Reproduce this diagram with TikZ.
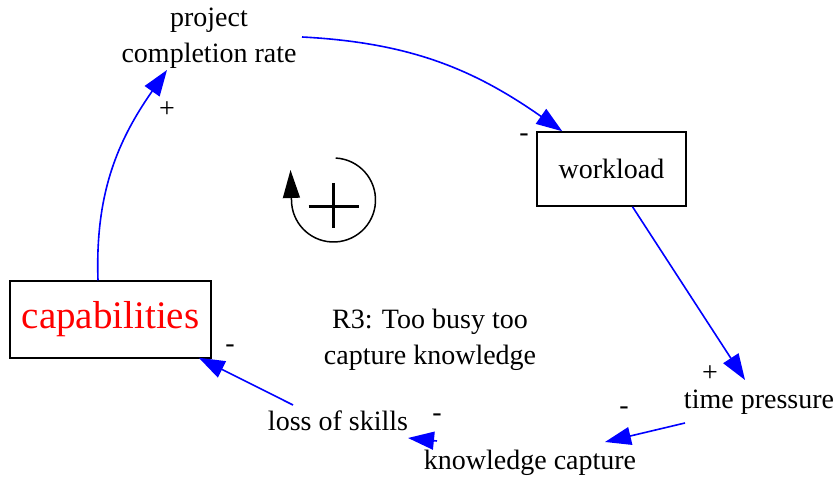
\documentclass[tikz,border=0pt]{standalone}
\usepackage{fontspec}
\setmainfont{Liberation Serif}
\newfontfamily\tnr{Liberation Serif}
\usepackage{tikz}
\usetikzlibrary{
  positioning,
  arrows.meta,
  calc
}

\begin{document}
\begin{tikzpicture}[
  x=0.5pt, y=0.5pt,
  txt/.style={inner sep=0pt, align=center, font=\tnr\fontsize{14}{18}\selectfont},
  box/.style={draw, line width=0.75pt, inner sep=0pt, minimum width=74.5pt,
              minimum height=37pt, font=\tnr\fontsize{14}{18}\selectfont},
  sign/.style={inner sep=0pt, font=\tnr\fontsize{14}{16}\selectfont},
  arrow/.style={-{Triangle[length=13pt, width=9pt]}, line width=0.8pt, blue}
]
  \useasboundingbox (0,0) rectangle (838,480);
  \node[txt] (P) at (209,442) {project\\completion rate};
  \node[box] (W) at (611.5,311) {workload};
  \node[box, minimum width=100.5pt, minimum height=38.5pt,
        font=\tnr\fontsize{19.5}{23}\selectfont, text=red] (C) at (110.5,160.5) {capabilities};
  \node[txt] (T) at (759,78) {time pressure};
  \node[txt] (K) at (530,17) {knowledge capture};
  \node[txt] (L) at (338,59) {loss of skills};
  \node[txt] (R) at (430,140) {R3: Too busy too\\capture knowledge};

  \draw[arrow] ($(C.north)+(-12.5,0)$) to[out=92, in=-125] ($(P.center)+(-42,-32)$);
  \draw[arrow] ($(P.center)+(93,1)$) to[out=-3, in=145] ($(W.north west)+(26,0)$);
  \draw[arrow] ($(W.south)+(21,0)$) -- ($(T.center)+(-14,22)$);
  \draw[arrow] ($(T.center)+(-74,-21)$) -- ($(K.center)+(75,21)$);
  \draw[arrow] ($(K.center)+(-93,22)$) -- ($(L.center)+(70,-17)$);
  \draw[arrow] ($(L.center)+(-45,16)$) -- ($(C.south east)+(-13,1)$);

  \node[sign] (s1) at (167,370) {+};
  \node[sign] (s2) at (524,342) {-};
  \node[sign] (s3) at (710,106) {+};
  \node[sign] (s4) at (624,69) {-};
  \node[sign] (s5) at (437,62) {-};
  \node[sign] (s6) at (230,131) {-};

  \coordinate (O) at (333.5,280);
  \draw[line width=0.75pt, -{Triangle[length=14pt, width=8.5pt]}]
    ($(O)+(87:42)$) arc[start angle=87, end angle=-180, radius=42] -- ++(-1,30);
  \draw[line width=1.5pt] ($(O)+(-25,-7)$) -- ($(O)+(25,-7)$);
  \draw[line width=1.5pt] ($(O)+(0,17)$) -- ($(O)+(0,-28)$);
\end{tikzpicture}
\end{document}
